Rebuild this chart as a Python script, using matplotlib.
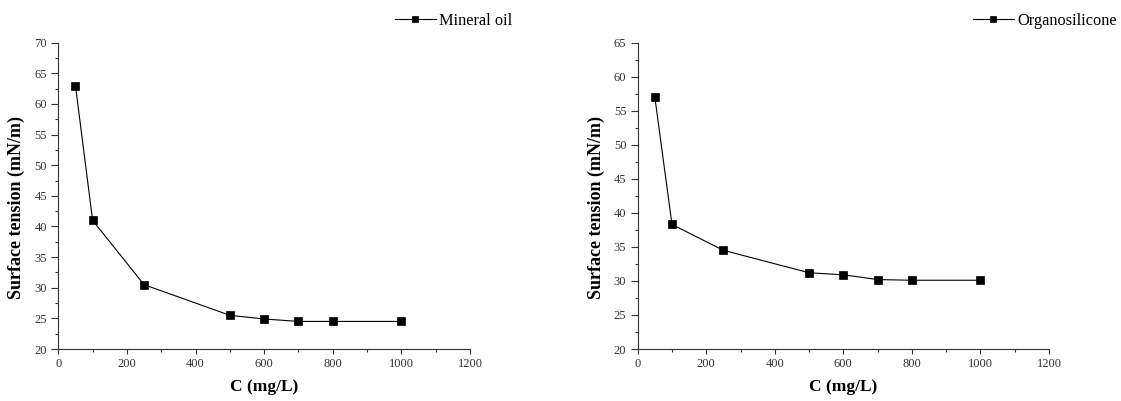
import matplotlib
matplotlib.use("Agg")
import matplotlib.pyplot as plt
from matplotlib.ticker import MultipleLocator

conc = [50, 100, 250, 500, 600, 700, 800, 1000]
mineral_oil = [63.0, 41.0, 30.5, 25.5, 24.9, 24.5, 24.5, 24.5]
organosilicone = [57.0, 38.3, 34.5, 31.2, 30.9, 30.2, 30.1, 30.1]
series_names = ["Mineral oil", "Organosilicone"]

plt.rcParams['font.family'] = ['Liberation Serif', 'DejaVu Serif']

fig = plt.figure(figsize=(11.21, 4.01), dpi=100)
W, H = 1121, 401

def make_ax(x0, x1, y_top, y_bot):
    return fig.add_axes([x0 / W, 1 - y_bot / H, (x1 - x0) / W, (y_bot - y_top) / H])

boxes = [(58.3, 470, 42.7, 349), (637.7, 1049, 42.7, 349)]
ax1 = make_ax(*boxes[0])
ax2 = make_ax(*boxes[1])

configs = [
    (ax1, boxes[0], mineral_oil, series_names[0], (20, 70), 25, (395, 21)),
    (ax2, boxes[1], organosilicone, series_names[1], (20, 65), 605, (973, 21)),
]

for ax, box, vals, name, ylim, ylab_x, leg in configs:
    x0, x1, yt, yb = box
    fx = lambda px: (px - x0) / (x1 - x0)
    fy = lambda py: (yb - py) / (yb - yt)
    ax.plot(conc, vals, color='black', lw=0.8, marker='s', ms=5.2,
            mfc='black', mec='black', mew=0.5, label=name)
    ax.set_xlim(0, 1200)
    ax.set_ylim(*ylim)
    ax.xaxis.set_major_locator(MultipleLocator(200))
    ax.xaxis.set_minor_locator(MultipleLocator(100))
    ax.yaxis.set_major_locator(MultipleLocator(5))
    ax.yaxis.set_minor_locator(MultipleLocator(2.5))
    for s in ['top', 'right']:
        ax.spines[s].set_visible(False)
    for s in ['left', 'bottom']:
        ax.spines[s].set_linewidth(0.8)
        ax.spines[s].set_color('#333333')
    ax.tick_params(axis='x', which='major', direction='out', length=3.6, width=0.8,
                   labelsize=9, colors='#333333', pad=3.2)
    ax.tick_params(axis='y', which='major', direction='out', length=5, width=0.8,
                   labelsize=9, colors='#333333', pad=3.2)
    ax.tick_params(axis='x', which='minor', direction='out', length=2.2, width=0.8,
                   colors='#333333')
    ax.tick_params(axis='y', which='minor', direction='out', length=2.5, width=0.8,
                   colors='#333333')
    ax.set_xlabel('C (mg/L)', fontsize=12.5, fontweight='bold')
    ax.xaxis.set_label_coords(0.5, fy(379))
    ax.set_ylabel('Surface tension (mN/m)', fontsize=13, fontweight='bold')
    ax.yaxis.set_label_coords(fx(ylab_x), fy(207.5))
    ax.legend(loc='center left', bbox_to_anchor=(fx(leg[0]), fy(leg[1])),
              frameon=False, fontsize=11.8, handlelength=2.5, handletextpad=0.2,
              borderaxespad=0, borderpad=0, markerscale=0.85)

fig.savefig('out.png', dpi=100)
